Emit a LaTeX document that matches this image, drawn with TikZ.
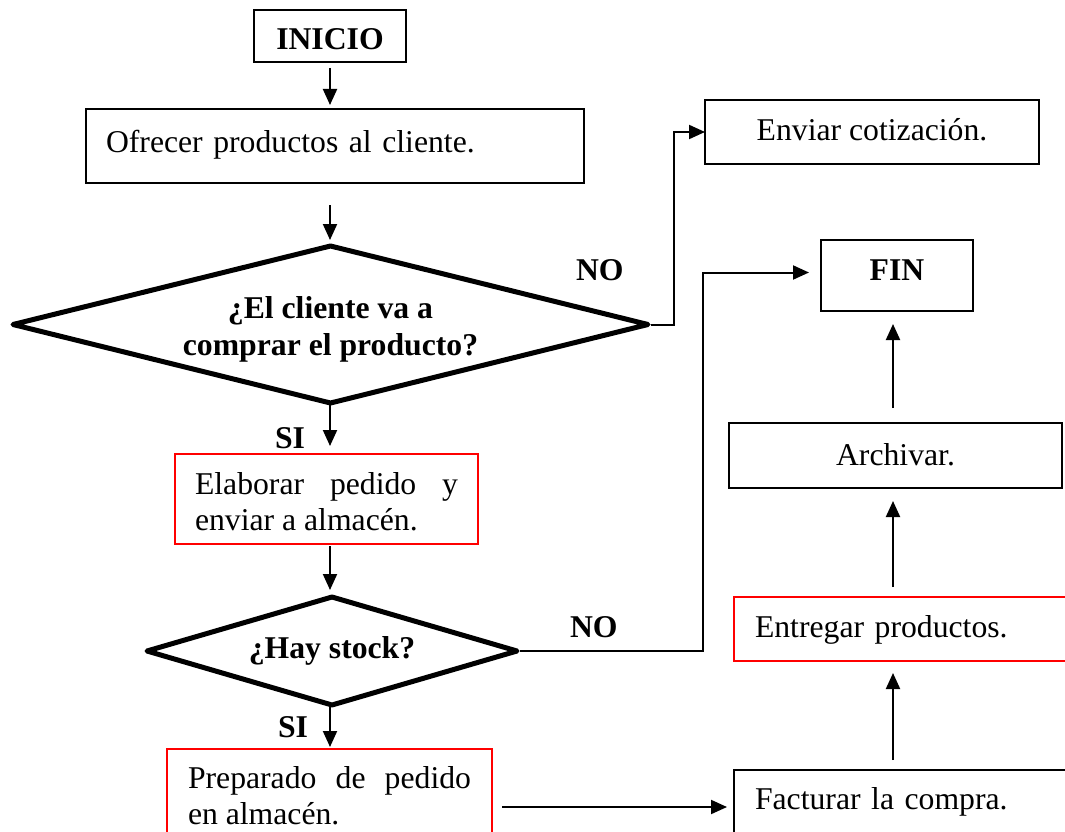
\documentclass[tikz,border=0pt]{standalone}
\usepackage{fontspec}
\setmainfont{Liberation Serif}
\usetikzlibrary{shapes.geometric,arrows.meta}

\begin{document}
\begin{tikzpicture}[x=1pt,y=-1pt,
  txt/.style={font=\fontsize{31.7}{36}\selectfont},
  every node/.style={txt, inner sep=0pt, outer sep=0pt},
  procbox/.style={draw=black, line width=1.4pt, rectangle, inner xsep=20pt, text height=22pt},
  redbox/.style={procbox, draw=red},
  termbox/.style={draw=black, line width=2.4pt, rectangle, font=\fontsize{31.7}{36}\selectfont\bfseries},
  decision/.style={draw=black, line width=5pt, line join=round, diamond, inner sep=0pt,
    font=\fontsize{31.7}{37}\selectfont\bfseries, align=center},
  flow/.style={line width=2pt, -{Triangle[length=16pt,width=14pt]}},
  tag/.style={font=\fontsize{31.7}{36}\selectfont\bfseries, anchor=base west},
]
\clip (0,0) rectangle (1065,832);
\fill[white] (0,0) rectangle (1065,832);

% column guides
\coordinate (lc) at (330,0);
\coordinate (rc) at (893,0);
\coordinate (jog1) at (674,0);
\coordinate (jog2) at (703,0);
\coordinate (lowrow) at (0,807);

% terminals
\node[termbox, minimum width=152pt, minimum height=52pt, text height=30pt, text depth=2pt]
  (inicio) at (330,36) {INICIO};
\node[termbox, line width=1.4pt, minimum width=152pt, minimum height=71pt, text height=22pt, text depth=13pt]
  (fin) at (897,275.5) {FIN};
\coordinate (finin) at ([yshift=3pt]fin.west);

% process boxes
\node[procbox, minimum width=498pt, minimum height=74pt, text depth=8pt, text width=458pt, align=left]
  (ofrecer) at (335,146) {Ofrecer productos al cliente.};
\node[procbox, minimum width=334pt, minimum height=64pt, text depth=6pt]
  (enviar) at (872,132) {Enviar cotización.};
\node[redbox, minimum width=303pt, minimum height=90pt, text width=263pt, text depth=32pt, align=justify]
  (elaborar) at (326.5,499) {\hyphenpenalty=10000 Elaborar pedido y enviar a almacén.};
\node[redbox, minimum width=325pt, minimum height=90pt, text width=283pt, text depth=34pt, align=justify]
  (preparado) at (329.5,794) {\hyphenpenalty=10000 Preparado de pedido en almacén.};
\node[procbox, minimum width=333pt, minimum height=65pt, text depth=3pt]
  (archivar) at (895.5,455.5) {Archivar.};
\node[redbox, minimum width=333pt, minimum height=64pt, text depth=6pt, text width=291pt, align=left]
  (entregar) at (900.5,629) {Entregar productos.};
\node[procbox, minimum width=333pt, minimum height=64pt, text depth=8pt, text width=291pt, align=left]
  (facturar) at (900.5,802) {Facturar la compra.};

% decisions (box of a multi-line label sits on its last line)
\node[decision, aspect=4.04, minimum width=635pt, minimum height=157pt, text height=61pt, text depth=0pt]
  (d1) at (330.5,324.5) {¿El cliente va a\\comprar el producto?};
\node[decision, aspect=3.43, minimum width=370pt, minimum height=108pt, text height=22pt, text depth=8pt]
  (d2) at (332,651) {¿Hay stock?};

% branch labels
\node[tag] (no1) at (576,280) {NO};
\node[tag] (no2) at (570,637) {NO};
\node[tag] (si1) at (275,448) {SI};
\node[tag] (si2) at (278,737) {SI};

% main flow
\draw[flow, shorten <=6pt, shorten >=4pt] (inicio.south -| lc) -- (ofrecer.north -| lc);
\draw[flow, shorten <=22pt, shorten >=6pt] (ofrecer.south -| lc) -- (d1.north -| lc);
\draw[flow, shorten >=8pt] (d1.south -| lc) -- (elaborar.north -| lc);
\draw[flow, shorten <=2pt, shorten >=7pt] (elaborar.south -| lc) -- (d2.north -| lc);
\draw[flow, shorten >=2pt] (d2.south -| lc) -- (preparado.north -| lc);
\draw[flow, shorten <=10pt, shorten >=7pt] (preparado.east |- lowrow) -- (facturar.west |- lowrow);

% right column, bottom to top
\draw[flow, shorten <=10pt, shorten >=12pt] (facturar.north -| rc) -- (entregar.south -| rc);
\draw[flow, shorten <=10pt, shorten >=13pt] (entregar.north -| rc) -- (archivar.south -| rc);
\draw[flow, shorten <=15pt, shorten >=13pt] (archivar.north -| rc) -- (fin.south -| rc);

% NO branches
\draw[flow, shorten <=3pt] (d1.east) -- (jog1 |- d1.east) -- (jog1 |- enviar.west) -- (enviar.west);
\draw[flow, shorten <=3pt, shorten >=12pt] (d2.east) -- (jog2 |- d2.east)
  -- (jog2 |- finin) -- (finin);
\end{tikzpicture}
\end{document}
